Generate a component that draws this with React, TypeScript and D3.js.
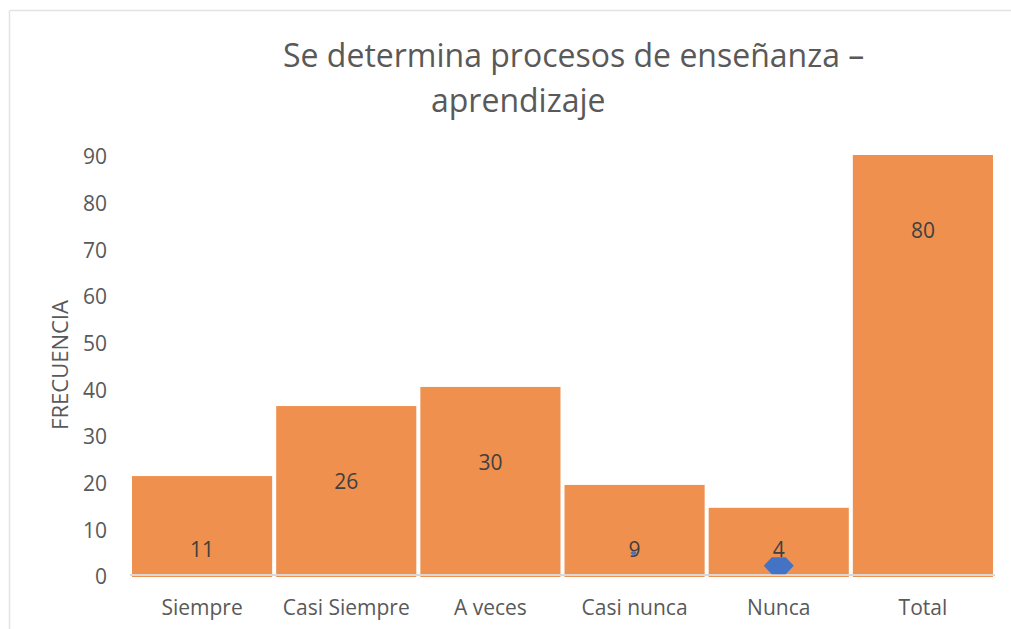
import React from "react";
import * as d3 from "d3";

const categories = ["Siempre", "Casi Siempre", "A veces", "Casi nunca", "Nunca", "Total"];
const barValues = [21.2, 36.2, 40.3, 19.3, 14.4, 90];
const labelTexts = ["11", "26", "30", "9", "4", "80"];
const markerValues = [null, null, null, null, 2, null];
const yTicks = [0, 10, 20, 30, 40, 50, 60, 70, 80, 90];
const titleLines = ["Se determina procesos de enseñanza –", "aprendizaje"];
const yAxisTitle = "FRECUENCIA";

const W = 1011;
const H = 629;
const FONT = "Open Sans, Noto Sans, sans-serif";

export default function App() {
  const y = d3.scaleLinear().domain([0, 90]).range([575, 155]);
  const x = d3.scaleBand<string>().domain(categories).range([130, 995]).paddingInner(0.028).paddingOuter(0.014);
  const bw = x.bandwidth();
  const hex = (cx: number, cy: number, s = 1) => {
    const pts = [
      [cx - 15 * s, cy],
      [cx - 7 * s, cy - 8.5 * s],
      [cx + 7 * s, cy - 8.5 * s],
      [cx + 15 * s, cy],
      [cx + 7 * s, cy + 8.5 * s],
      [cx - 7 * s, cy + 8.5 * s],
    ];
    return d3.line()(pts as [number, number][]) + "Z";
  };
  const cn = (x("Casi nunca") as number) + bw / 2;
  return (
    <svg width={W} height={H} style={{ position: "absolute", left: 0, top: 0, display: "block" }}>
      <rect x={0} y={0} width={W} height={H} fill="#fff" />
      <line x1={9.5} y1={10.5} x2={W} y2={10.5} stroke="#e3e3e3" strokeWidth={1.5} />
      <line x1={9.5} y1={10.5} x2={9.5} y2={H} stroke="#e3e3e3" strokeWidth={1.5} />
      <text x={283} y={67} fontFamily={FONT} fontSize={32} fill="#595959">{titleLines[0]}</text>
      <text x={431} y={112} fontFamily={FONT} fontSize={32} fill="#595959">{titleLines[1]}</text>
      {yTicks.map((t) => (
        <text key={t} x={107} y={y(t) + 2} dy="0.35em" textAnchor="end" fontFamily={FONT} fontSize={21} fill="#595959">{t}</text>
      ))}
      <text transform={`translate(68,365) rotate(-90)`} textAnchor="middle" fontFamily={FONT} fontSize={22} fill="#595959">{yAxisTitle}</text>
      {categories.map((c, i) => (
        <rect key={c} x={x(c)} y={y(barValues[i])} width={bw} height={y(0) - y(barValues[i]) + 2} fill="#ef904f" />
      ))}
      <line x1={130} x2={995} y1={y(0)} y2={y(0)} stroke="#d9d9d9" strokeWidth={2} />
      {categories.map((c, i) => (
        <text key={c} x={(x(c) as number) + bw / 2} y={Math.min(y(barValues[i]) + 76, 550)} dy="0.35em" textAnchor="middle" fontFamily={FONT} fontSize={21} fill="#404040">{labelTexts[i]}</text>
      ))}
      {categories.map((c, i) =>
        markerValues[i] == null ? null : (
          <path key={c} d={hex((x(c) as number) + bw / 2, y(markerValues[i] as number))} fill="#4472c4" />
        )
      )}
      <path d={hex(cn - 1, 553, 0.2)} fill="#4472c4" />
      {categories.map((c) => (
        <text key={c} x={(x(c) as number) + bw / 2} y={608} dy="0.35em" textAnchor="middle" fontFamily={FONT} fontSize={21} fill="#595959">{c}</text>
      ))}
    </svg>
  );
}
